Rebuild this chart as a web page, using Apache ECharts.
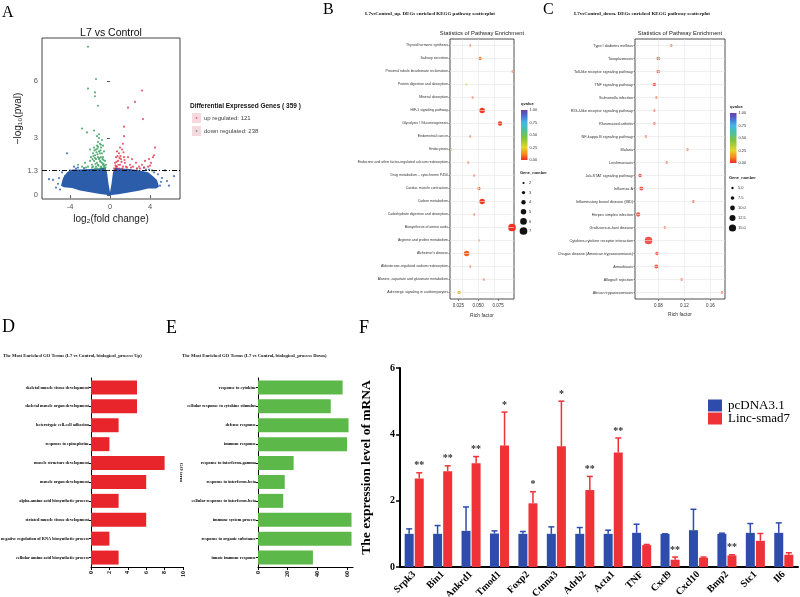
<!DOCTYPE html>
<html><head><meta charset="utf-8">
<script src="https://cdn.jsdelivr.net/npm/echarts@6/dist/echarts.min.js"></script>
<style>html,body{margin:0;padding:0;background:#fff}#c{width:800px;height:597px}</style>
</head><body><div id="c"></div>
<script>
// ===== Panel A: volcano (L7 vs Control) =====
const volcanoXTicks = [-4, 0, 4];
const volcanoYTicks = [0, 1.3, 3, 6];
const pThreshold = 1.3;
// outline of the dense blue (non-significant) point cloud
const cloudX = [-4.9,-4.7,-4.3,-3.8,-3.0,-2.0,-1.2,-0.5,-0.3,-0.15,0,0.15,0.3,0.5,1.2,2.0,3.0,3.8,4.3,4.7,4.9,4.6,3.8,3.0,2.0,1.0,0,-1.0,-2.0,-3.0,-3.8,-4.6];
const cloudY = [0.5,0.9,1.2,1.35,1.35,1.38,1.4,1.45,1.2,0.6,0.15,0.6,1.2,1.45,1.4,1.38,1.3,1.2,1.0,0.8,0.45,0.35,0.35,0.25,0.15,0.06,0.0,0.06,0.15,0.25,0.38,0.42];
// scattered non-significant genes
const otherX = [-6.1,-5.7,-5.2,-4.8,-3.6,-4.3,6.4,5.7,5.0,4.8,3.9,5.5,-5.0,-4.5,4.4,5.2,-3.2,3.4,-2.6,2.7,-5.4,5.9,-4.0,-3.4,4.2,3.6,-5.1,5.1];
const otherY = [0.84,0.8,0.6,1.2,1.5,2.2,1.0,0.74,0.5,1.1,1.35,1.3,0.3,1.0,1.2,0.9,1.45,1.45,1.42,1.4,0.4,0.5,1.3,1.4,1.3,1.35,0.9,0.7];
// down regulated (green)
const downX = [-1.7,-1.6,-1.5,-1.4,-1.3,-1.2,-1.1,-1.0,-0.9,-0.8,-0.7,-0.6,-0.5,-1.5,-1.3,-1.2,-1.1,-1.0,-0.9,-0.8,-0.7,-1.6,-1.4,-1.2,-0.9,-0.6,-1.8,-1.9,-2.2,-2.5,-2.8,-3.2,-1.1,-0.8,-1.3,-1.6,-2.3,-2.8,-1.1,-1.5,-1.5,-2.2,-1.4,-1.2,-2.2,-0.5,-0.4,-1.0,-1.4,-1.7,-1.25,-0.95,-0.65,
  -1.75,-1.45,-1.15,-0.85,-0.55,-1.65,-1.35,-1.05,-0.75,-0.45,-1.55,-1.25,-0.95,-0.65,-1.8,-1.5,-1.2,-0.9,-1.0,-1.3,-0.7,-2.0,-2.4,-2.0];
const downY = [1.5,1.8,2.1,2.4,2.6,1.6,1.9,2.2,2.5,1.7,2.0,1.5,1.8,1.4,1.7,2.0,2.3,2.7,1.5,2.2,1.6,2.5,1.9,2.8,2.0,2.3,1.6,2.0,1.5,1.7,1.5,1.6,3.0,2.9,3.1,3.4,3.3,3.5,3.2,5.2,5.4,5.6,6.1,4.7,7.8,1.4,1.6,1.4,1.5,2.2,2.15,1.75,1.85,
  1.9,1.65,1.55,1.45,1.55,2.05,2.25,1.95,1.9,1.45,2.35,2.45,2.35,1.65,1.45,1.95,2.55,2.65,1.8,1.4,2.6,1.8,1.45,2.4];
// up regulated (red)
const upX = [0.4,0.5,0.6,0.7,0.8,0.9,1.0,1.1,1.2,1.3,1.4,1.5,0.6,0.9,1.2,1.6,1.8,2.0,2.3,2.6,2.9,3.2,3.5,3.8,4.1,4.3,4.4,4.5,3.9,1.3,1.4,1.4,1.8,2.5,3.2,3.3,1.0,0.7,2.2,3.0,
  0.55,0.85,1.15,1.45,0.75,1.05,1.35,0.65,0.95,1.7,2.1,2.7,3.4,4.0];
const upY = [1.4,1.7,2.0,1.5,1.8,2.2,1.6,1.9,2.4,1.5,2.0,1.7,1.5,1.4,1.4,1.5,2.0,1.6,1.5,1.7,1.5,1.6,1.8,1.5,1.7,2.0,2.1,2.5,1.9,2.7,3.1,3.6,4.6,4.9,5.5,4.0,2.5,2.3,1.9,1.4,
  1.55,1.6,1.75,1.85,2.05,2.05,2.25,1.75,1.95,1.45,1.45,1.4,1.45,1.55];
const upCount = 121, downCount = 238, totalDEG = 359;

// ===== Panel B: KEGG up =====
const bCats = ['Thyroid hormone synthesis','Salivary secretion','Proximal tubule bicarbonate reclamation','Protein digestion and absorption','Mineral absorption','HIF-1 signaling pathway','Glycolysis / Gluconeogenesis','Endometrial cancer','Endocytosis','Endocrine and other factor-regulated calcium reabsorption','Drug metabolism \u2013 cytochrome P450','Cardiac muscle contraction','Carbon metabolism','Carbohydrate digestion and absorption','Biosynthesis of amino acids','Arginine and proline metabolism',"Alzheimer's disease",'Aldosterone-regulated sodium reabsorption','Alanine, aspartate and glutamate metabolism','Adrenergic signaling in cardiomyocytes'];
const bRich  = [0.040,0.0525,0.093,0.035,0.043,0.055,0.0775,0.040,0.016,0.0375,0.045,0.051,0.055,0.045,0.0925,0.051,0.0355,0.040,0.057,0.026];
const bQ     = [0.05,0.10,0.05,0.30,0.05,0.02,0.02,0.05,0.40,0.05,0.05,0.08,0.02,0.05,0.01,0.10,0.07,0.05,0.05,0.20];
const bGenes = [2,3,2,2,2,5,4,2,2,2,2,3,5,2,7,2,5,2,2,3];
const bXTicks = [0.025,0.050,0.075];
const bGeneLegend = [2,3,4,5,6,7];

// ===== Panel C: KEGG down =====
const cCats = ['Type I diabetes mellitus','Toxoplasmosis','Toll-like receptor signaling pathway','TNF signaling pathway','Salmonella infection','RIG-I-like receptor signaling pathway','Rheumatoid arthritis','NF-kappa B signaling pathway','Malaria','Leishmaniasis','Jak-STAT signaling pathway','Influenza A','Inflammatory bowel disease (IBD)','Herpes simplex infection','Graft-versus-host disease','Cytokine-cytokine receptor interaction','Chagas disease (American trypanosomiasis)','Amoebiasis','Allograft rejection','African trypanosomiasis'];
const cRich  = [0.100,0.080,0.080,0.074,0.077,0.074,0.074,0.061,0.125,0.093,0.052,0.054,0.134,0.049,0.090,0.065,0.078,0.077,0.116,0.178];
const cQ     = [0.05,0.01,0.01,0.01,0.05,0.05,0.03,0.05,0.05,0.04,0.01,0.01,0.02,0.01,0.05,0.00,0.01,0.01,0.05,0.05];
const cGenes = [5.5,7.5,7.5,7.5,5,5,5.5,5,5,5,7.5,8.5,5.5,9,5,16,7.5,8.5,5,5];
const cXTicks = [0.08,0.12,0.16];
const cGeneLegend = [5.0,7.5,10.0,12.5,15.0];
const qLegend = [1.00,0.75,0.50,0.25,0.00];

// ===== Panel D: GO up =====
const dCats = ['skeletal muscle tissue development','skeletal muscle organ development','heterotypic cell-cell adhesion','response to epinephrine','muscle structure development','muscle organ development','alpha-amino acid biosynthetic process','striated muscle tissue development','negative regulation of RNA biosynthetic process','cellular amino acid biosynthetic process'];
const dVals = [5,5,3,2,8,6,3,6,2,3];

// ===== Panel E: GO down =====
const eCats = ['response to cytokine','cellular response to cytokine stimulus','defense response','immune response','response to interferon-gamma','response to interferon-beta','cellular response to interferon-beta','immune system process','response to organic substance','innate immune response'];
const eVals = [57,49,61,60,24,18,17,63,63,37];
const eXTicks = [0,20,40,60];

// ===== Panel F: qPCR =====
const fCats = ['Srpk3','Bin1','Ankrd1','Tmod1','Foxp2','Ctnna3','Adrb2','Acta1','TNF','Cxcl9','Cxcl10','Bmp2','Stc1','Il6'];
const fCtrl    = [1.00,1.00,1.09,1.01,1.00,1.00,1.00,1.00,1.03,1.00,1.11,1.00,1.03,1.03];
const fCtrlErr = [0.15,0.25,0.72,0.08,0.07,0.21,0.19,0.11,0.26,0.00,0.63,0.02,0.28,0.30];
const fLinc    = [2.67,2.89,3.13,3.66,1.92,3.64,2.32,3.45,0.66,0.22,0.28,0.35,0.79,0.37];
const fLincErr = [0.17,0.16,0.20,1.01,0.35,1.36,0.41,0.44,0.02,0.08,0.02,0.02,0.22,0.06];
const fSig     = ['**','**','**','*','*','*','**','**','','**','','**','',''];

// ===== helpers =====
const qStops = [[0,'#ee2a24'],[0.12,'#f38b1f'],[0.25,'#e6d52a'],[0.45,'#7cc441'],[0.62,'#49bfa8'],[0.75,'#47b6e6'],[0.88,'#4a6fd0'],[1,'#6a3fa2']];
function hex(c){return [parseInt(c.substr(1,2),16),parseInt(c.substr(3,2),16),parseInt(c.substr(5,2),16)];}
function qColor(q){
  for(let i=1;i<qStops.length;i++){
    if(q<=qStops[i][0]){
      const a=qStops[i-1],b=qStops[i],t=(q-a[0])/(b[0]-a[0]);
      const ca=hex(a[1]),cb=hex(b[1]);
      return 'rgb('+ca.map((v,k)=>Math.round(v+(cb[k]-v)*t)).join(',')+')';
    }
  }
  return qStops[qStops.length-1][1];
}
const bSize = n => n*1.1;
const cSize = n => n*0.48;
const SERIF = 'Liberation Serif, Times New Roman, serif';
const SANS = 'Liberation Sans, Arial, sans-serif';

const grids = [
  {left:42, top:38, width:138, height:161, show:true, borderColor:'#444', borderWidth:1},
  {left:450, top:39, width:64, height:260, show:true, borderColor:'#222', borderWidth:0.8},
  {left:635, top:39, width:90, height:260, show:true, borderColor:'#222', borderWidth:0.8},
  {left:91, top:378, width:92, height:189},
  {left:258, top:378, width:95, height:189},
  {left:400, top:368, width:398, height:199}
].map(g=>Object.assign({containLabel:false, outerBoundsMode:'none'}, g));

const xAxes = [
  {gridIndex:0, type:'value', min:-6.8, max:7.0, splitLine:{show:false},
   axisLine:{show:false}, axisTick:{show:true, customValues:volcanoXTicks, length:3, lineStyle:{color:'#555'}},
   axisLabel:{customValues:volcanoXTicks, fontSize:7.5, color:'#555', fontFamily:SANS, margin:4},
   name:'log\u2082(fold change)', nameLocation:'middle', nameGap:15, nameTextStyle:{fontSize:10, color:'#222', fontFamily:SANS}},
  {gridIndex:1, type:'value', min:0.0146, max:0.095, splitLine:{show:false}, axisLine:{show:false},
   axisTick:{show:true, customValues:bXTicks, length:2, lineStyle:{color:'#333', width:0.6}},
   axisLabel:{customValues:bXTicks, formatter:v=>v.toFixed(3), fontSize:4.5, color:'#333', fontFamily:SANS, margin:4},
   name:'Rich factor', nameLocation:'middle', nameGap:14, nameTextStyle:{fontSize:5, color:'#333', fontFamily:SANS}},
  {gridIndex:2, type:'value', min:0.0442, max:0.1826, splitLine:{show:false}, axisLine:{show:false},
   axisTick:{show:true, customValues:cXTicks, length:2, lineStyle:{color:'#333', width:0.6}},
   axisLabel:{customValues:cXTicks, formatter:v=>v.toFixed(2), fontSize:4.5, color:'#333', fontFamily:SANS, margin:4},
   name:'Rich factor', nameLocation:'middle', nameGap:13, nameTextStyle:{fontSize:5, color:'#333', fontFamily:SANS}},
  {gridIndex:3, type:'value', min:0, max:10, interval:2, splitLine:{show:false},
   axisLine:{show:true, lineStyle:{color:'#000', width:1.2}}, axisTick:{show:true, length:3, lineStyle:{color:'#000'}},
   axisLabel:{rotate:90, fontSize:6, fontWeight:'bold', color:'#000', fontFamily:SERIF, margin:4}},
  {gridIndex:4, type:'value', min:0, max:64, splitLine:{show:false},
   axisLine:{show:true, lineStyle:{color:'#000', width:1.2}}, axisTick:{show:true, customValues:eXTicks, length:3, lineStyle:{color:'#000'}},
   axisLabel:{customValues:eXTicks, rotate:90, fontSize:6, fontWeight:'bold', color:'#000', fontFamily:SERIF, margin:4}},
  {gridIndex:5, type:'category', data:fCats, axisLine:{show:true, lineStyle:{color:'#000', width:2}},
   axisTick:{show:false}, axisLabel:{rotate:45, fontSize:10, fontWeight:'bold', color:'#000', fontFamily:SERIF, margin:6, interval:0}}
];

const yAxes = [
  {gridIndex:0, type:'value', min:-0.2, max:8.26, splitLine:{show:false}, axisLine:{show:false},
   axisTick:{show:true, customValues:volcanoYTicks, length:3, lineStyle:{color:'#555'}},
   axisLabel:{customValues:volcanoYTicks, fontSize:7.5, color:'#555', fontFamily:SANS, margin:4},
   name:'\u2212log\u2081\u2080(pval)', nameLocation:'middle', nameGap:13, nameRotate:90, nameTextStyle:{fontSize:10, color:'#222', fontFamily:SANS}},
  {gridIndex:1, type:'category', data:bCats, inverse:true, splitLine:{show:false}, axisLine:{show:false},
   axisTick:{show:true, alignWithLabel:true, length:1.5, lineStyle:{color:'#333', width:0.5}},
   axisLabel:{fontSize:3.5, color:'#333', fontFamily:SANS, margin:2, interval:0}},
  {gridIndex:2, type:'category', data:cCats, inverse:true, splitLine:{show:false}, axisLine:{show:false},
   axisTick:{show:true, alignWithLabel:true, length:1.5, lineStyle:{color:'#333', width:0.5}},
   axisLabel:{fontSize:3.8, color:'#333', fontFamily:SANS, margin:2, interval:0}},
  {gridIndex:3, type:'category', data:dCats, inverse:true, axisLine:{show:true, lineStyle:{color:'#000', width:1}},
   axisTick:{show:true, alignWithLabel:true, length:2, lineStyle:{color:'#000'}},
   axisLabel:{fontSize:4.3, fontWeight:'bold', color:'#000', fontFamily:SERIF, margin:2, interval:0},
   name:'GO term', nameLocation:'middle', nameGap:84, nameRotate:-90, nameTextStyle:{fontSize:5, fontWeight:'bold', color:'#000', fontFamily:SERIF}},
  {gridIndex:4, type:'category', data:eCats, inverse:true, axisLine:{show:true, lineStyle:{color:'#000', width:1}},
   axisTick:{show:true, alignWithLabel:true, length:2, lineStyle:{color:'#000'}},
   axisLabel:{fontSize:4.3, fontWeight:'bold', color:'#000', fontFamily:SERIF, margin:2, interval:0},
   name:'GO term', nameLocation:'middle', nameGap:69, nameRotate:-90, nameTextStyle:{fontSize:5, fontWeight:'bold', color:'#000', fontFamily:SERIF}},
  {gridIndex:5, type:'value', min:0, max:6, interval:2, splitLine:{show:false},
   axisLine:{show:true, lineStyle:{color:'#000', width:2}}, axisTick:{show:true, length:4, lineStyle:{color:'#000', width:1.5}},
   axisLabel:{fontSize:10, fontWeight:'bold', color:'#000', fontFamily:SERIF, margin:5},
   name:'The expression level of mRNA', nameLocation:'middle', nameGap:26, nameRotate:90,
   nameTextStyle:{fontSize:13.5, fontWeight:'bold', color:'#000', fontFamily:SERIF}}
];

const gridLineStyle = {color:'#e4e4e4', width:0.6, type:'solid'};
function gridMarks(xt, cats){
  return {silent:true, symbol:'none', label:{show:false}, lineStyle:gridLineStyle, animation:false,
    data: xt.map(v=>({xAxis:v})).concat(cats.map(c=>({yAxis:c})))};
}
function errSeries(vals, errs, offset, color, withSig){
  return {type:'custom', xAxisIndex:5, yAxisIndex:5, z:5, silent:true,
    data: vals.map((v,i)=>[i, v, errs[i]]),
    renderItem:(params, api)=>{
      const i = params.dataIndex;
      const idx = api.value(0), v = api.value(1), e = api.value(2);
      const b = api.coord([idx, v]), t = api.coord([idx, v+e]);
      const x = b[0]+offset;
      const ch = [
        {type:'line', shape:{x1:x, y1:b[1], x2:x, y2:t[1]}, style:{stroke:color, lineWidth:1.5}},
        {type:'line', shape:{x1:x-3, y1:t[1], x2:x+3, y2:t[1]}, style:{stroke:color, lineWidth:1.5}}
      ];
      if(withSig && fSig[i]){
        ch.push({type:'text', x:x, y:t[1]-7, style:{text:fSig[i], fill:'#333', font:'bold 10px '+SERIF, align:'center', verticalAlign:'middle'}});
      }
      return {type:'group', children:ch};
    }};
}

const series = [
  {type:'custom', xAxisIndex:0, yAxisIndex:0, z:1, silent:true, clip:true,
   data: cloudX.map((x,i)=>[x, cloudY[i]]),
   renderItem:(params, api)=>{
     if(params.dataIndex!==0) return null;
     const pts = cloudX.map((x,i)=>api.coord([x, cloudY[i]]));
     return {type:'polygon', shape:{points:pts}, style:{fill:'#2b5dab'}};
   }},
  {type:'scatter', xAxisIndex:0, yAxisIndex:0, symbolSize:2.2, z:2, silent:true,
   itemStyle:{color:'#2b5dab'}, data: otherX.map((x,i)=>[x, otherY[i]])},
  {type:'scatter', xAxisIndex:0, yAxisIndex:0, symbolSize:2.2, z:3, silent:true,
   itemStyle:{color:'#36a05c'}, data: downX.map((x,i)=>[x, downY[i]])},
  {type:'scatter', xAxisIndex:0, yAxisIndex:0, symbolSize:2.2, z:3, silent:true,
   itemStyle:{color:'#e8344c'}, data: upX.map((x,i)=>[x, upY[i]]),
   markLine:{silent:true, symbol:'none', label:{show:false}, animation:false,
     lineStyle:{color:'#111', width:1, type:[5,2,1,2]}, data:[{yAxis:pThreshold}]}},
  {type:'scatter', xAxisIndex:1, yAxisIndex:1, data:[], z:1, markLine:gridMarks(bXTicks, bCats)},
  {type:'scatter', xAxisIndex:1, yAxisIndex:1, z:3, silent:true,
   data: bCats.map((c,i)=>[bRich[i], i, bQ[i], bGenes[i]]),
   symbolSize: v=>bSize(v[3]),
   itemStyle:{color:p=>qColor(p.value[2]), opacity:1}},
  {type:'scatter', xAxisIndex:2, yAxisIndex:2, data:[], z:1, markLine:gridMarks(cXTicks, cCats)},
  {type:'scatter', xAxisIndex:2, yAxisIndex:2, z:3, silent:true,
   data: cCats.map((c,i)=>[cRich[i], i, cQ[i], cGenes[i]]),
   symbolSize: v=>cSize(v[3]),
   itemStyle:{color:p=>qColor(p.value[2])}},
  {type:'bar', xAxisIndex:3, yAxisIndex:3, data:dVals, barWidth:14, itemStyle:{color:'#e8252b'}, silent:true},
  {type:'bar', xAxisIndex:4, yAxisIndex:4, data:eVals, barWidth:14, itemStyle:{color:'#5cb848'}, silent:true},
  {type:'bar', name:'pcDNA3.1', xAxisIndex:5, yAxisIndex:5, data:fCtrl, barWidth:9, barGap:'12%', itemStyle:{color:'#2d4cab'}, silent:true},
  {type:'bar', name:'Linc-smad7', xAxisIndex:5, yAxisIndex:5, data:fLinc, barWidth:9, barGap:'12%', itemStyle:{color:'#ee3237'}, silent:true},
  errSeries(fCtrl, fCtrlErr, -5.04, '#2d4cab', false),
  errSeries(fLinc, fLincErr, 5.04, '#ee3237', true)
];

// graphic texts and legends
const G = [];
function txt(x, y, text, font, fill, align, rot){
  G.push({type:'text', x:x, y:y, rotation:rot||0, silent:true,
    style:{text:text, font:font, fill:fill||'#000', align:align||'left', verticalAlign:'middle'}});
}
txt(2, 13, 'A', '16px '+SERIF);
txt(323, 10, 'B', '16px '+SERIF);
txt(543, 10, 'C', '16px '+SERIF);
txt(2, 327, 'D', '18px '+SERIF);
txt(166, 328, 'E', '18px '+SERIF);
txt(359, 328, 'F', '18px '+SERIF);
txt(111, 33, 'L7 vs Control', '10.5px '+SANS, '#111', 'center');
txt(190, 106, 'Differential Expressed Genes ( '+totalDEG+' )', 'bold 6.5px '+SANS, '#111');
[['up regulated: '+upCount, 118, '#e8344c'], ['down regulated: '+downCount, 131, '#36a05c']].forEach(r=>{
  G.push({type:'rect', shape:{x:192, y:r[1]-5, width:9, height:10}, style:{fill:'#f6d9df'}, silent:true});
  G.push({type:'circle', shape:{cx:196.5, cy:r[1], r:0.9}, style:{fill:r[2], opacity:0.7}, silent:true});
  txt(204, r[1], r[0], '6px '+SANS, '#444');
});
txt(430, 14, 'L7vsControl_up. DEGs enriched KEGG pathway scatterplot', 'bold 5px '+SERIF, '#111', 'center');
txt(642, 14, 'L7vsControl_down. DEGs enriched KEGG pathway scatterplot', 'bold 5px '+SERIF, '#111', 'center');
txt(482, 33, 'Statistics of Pathway Enrichment', '5.8px '+SANS, '#222', 'center');
txt(680, 33, 'Statistics of Pathway Enrichment', '5.8px '+SANS, '#222', 'center');
txt(3, 356, 'The Most Enriched GO Terms (L7 vs Control, biological_process Up)', 'bold 4.7px '+SERIF, '#111');
txt(182, 356, 'The Most Enriched GO Terms (L7 vs Control, biological_process Down)', 'bold 4.7px '+SERIF, '#111');

const gradFill = {type:'linear', x:0, y:1, x2:0, y2:0, colorStops:qStops.map(s=>({offset:s[0], color:s[1]}))};
function kegLegend(x, y, h, genes, sizeFn, gy, step, decimals){
  txt(x, y-6, 'qvalue', 'bold 4px '+SANS, '#222');
  G.push({type:'rect', shape:{x:x, y:y, width:6.5, height:h}, style:{fill:gradFill}, silent:true});
  qLegend.forEach(q=>{ txt(x+8.5, y + h*(1-q), q.toFixed(2), '4px '+SANS, '#333'); });
  txt(x-1, gy, 'Gene_number', 'bold 4px '+SANS, '#222');
  genes.forEach((g,i)=>{
    const yy = gy + 10 + i*step;
    G.push({type:'circle', shape:{cx:x+2.5, cy:yy, r:sizeFn(g)/2}, style:{fill:'#111'}, silent:true});
    txt(x+8, yy, g.toFixed(decimals), '4px '+SANS, '#333');
  });
}
kegLegend(521, 110, 50, bGeneLegend, bSize, 173, 9.6, 0);
kegLegend(730, 113, 50, cGeneLegend, cSize, 178, 10, 1);

const chart = echarts.init(document.getElementById('c'), null, {renderer:'canvas', width:800, height:597});
chart.setOption({
  animation:false,
  backgroundColor:'#fff',
  grid:grids, xAxis:xAxes, yAxis:yAxes, series:series,
  legend:{data:['pcDNA3.1','Linc-smad7'], left:708, top:399, orient:'vertical', icon:'rect',
    itemWidth:14, itemHeight:12, itemGap:0, selectedMode:false, padding:0,
    textStyle:{fontFamily:SERIF, fontSize:13, color:'#000', lineHeight:12, padding:[0,0,0,1]}},
  graphic:G
});
</script></body></html>
